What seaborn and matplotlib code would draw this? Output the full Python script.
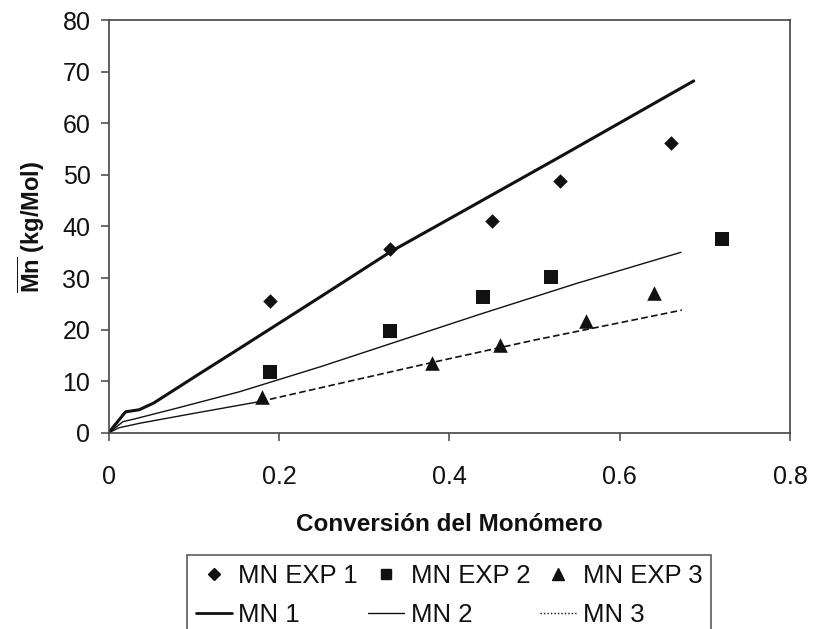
import numpy as np
import pandas as pd
import seaborn as sns
import matplotlib
matplotlib.use("Agg")
import matplotlib.pyplot as plt
from matplotlib.lines import Line2D

# ---- data ----
exp1_x = [0.19, 0.33, 0.45, 0.53, 0.66]
exp1_y = [25.6, 35.6, 41.0, 48.8, 56.1]
exp2_x = [0.19, 0.33, 0.44, 0.52, 0.72]
exp2_y = [11.8, 19.8, 26.4, 30.3, 37.6]
exp3_x = [0.18, 0.38, 0.46, 0.56, 0.64]
exp3_y = [7.0, 13.5, 17.1, 21.7, 27.1]

mn1_x = [0.0, 0.02, 0.036, 0.053, 0.107, 0.154, 0.25, 0.331, 0.436, 0.53, 0.687]
mn1_y = [0.0, 4.1, 4.5, 5.8, 11.5, 16.4, 26.5, 35.1, 44.8, 53.5, 68.2]
mn2_x = [0.0, 0.017, 0.03, 0.08, 0.154, 0.25, 0.331, 0.436, 0.55, 0.672]
mn2_y = [0.0, 2.2, 2.7, 4.8, 8.0, 12.9, 17.3, 23.0, 29.0, 35.0]
mn3_x = [0.0, 0.012, 0.037, 0.1, 0.178, 0.25, 0.381, 0.5, 0.673]
mn3_y = [0.0, 1.0, 1.9, 3.8, 6.1, 8.8, 13.7, 18.0, 23.8]

x_ticks = [0, 0.2, 0.4, 0.6, 0.8]
x_ticklabels = ["0", "0.2", "0.4", "0.6", "0.8"]
y_ticks = [0, 10, 20, 30, 40, 50, 60, 70, 80]

exp_labels = ["MN EXP 1", "MN EXP 2", "MN EXP 3"]
mn_labels = ["MN 1", "MN 2", "MN 3"]

sns.set_theme(style="white")
plt.rcParams["font.family"] = ["Liberation Sans", "DejaVu Sans"]
plt.rcParams["mathtext.fontset"] = "custom"
plt.rcParams["mathtext.rm"] = "Liberation Sans"
plt.rcParams["mathtext.bf"] = "Liberation Sans:bold"

fig = plt.figure(figsize=(8.13, 6.29), dpi=100)
ax = fig.add_axes([108.5 / 813, 1 - 433 / 629, (790 - 108.5) / 813, (433 - 20) / 629])

ink = "#111111"

# model lines
sns.lineplot(x=mn1_x, y=mn1_y, ax=ax, color=ink, lw=2.2, sort=False,
             estimator=None, legend=False)
sns.lineplot(x=mn2_x, y=mn2_y, ax=ax, color=ink, lw=1.0, sort=False,
             estimator=None, legend=False)
# MN3: dense early part looks solid, then dashed
n_solid = 5
sns.lineplot(x=mn3_x[:n_solid], y=mn3_y[:n_solid], ax=ax, color=ink, lw=1.0,
             sort=False, estimator=None, legend=False)
sns.lineplot(x=mn3_x[n_solid - 1:], y=mn3_y[n_solid - 1:], ax=ax, color=ink,
             lw=1.2, sort=False, estimator=None, legend=False,
             dashes=False, linestyle=(0, (4, 2)))

# experimental points
sns.scatterplot(x=exp1_x, y=exp1_y, ax=ax, marker="D", s=55, color=ink,
                edgecolor=ink, linewidth=0, zorder=5)
sns.scatterplot(x=exp2_x, y=exp2_y, ax=ax, marker="s", s=95, color=ink,
                edgecolor=ink, linewidth=0, zorder=5)
sns.scatterplot(x=exp3_x, y=exp3_y, ax=ax, marker="^", s=110, color=ink,
                edgecolor=ink, linewidth=0, zorder=5)

ax.set_xlim(0, 0.8)
ax.set_ylim(0, 80)
ax.set_xticks(x_ticks)
ax.set_xticklabels(x_ticklabels)
ax.set_yticks(y_ticks)

for sp in ax.spines.values():
    sp.set_visible(True)
    sp.set_color("#444444")
    sp.set_linewidth(1.2)

ax.tick_params(axis="both", which="major", direction="out", length=6,
               width=1.1, color="#444444", labelsize=18, labelcolor=ink)
ax.tick_params(axis="x", pad=17, bottom=True)
ax.tick_params(axis="y", pad=7, left=True)

ax.set_xlabel("Conversión del Monómero", fontsize=17.5, fontweight="bold",
              color=ink, labelpad=17)
ax.set_ylabel(r"$\overline{\mathbf{Mn}}$ (kg/Mol)", fontsize=17,
              fontweight="bold", color=ink, labelpad=11)

# legend
h_e1 = Line2D([], [], ls="none", marker="D", ms=6, color=ink)
h_e2 = Line2D([], [], ls="none", marker="s", ms=7, color=ink)
h_e3 = Line2D([], [], ls="none", marker="^", ms=8, color=ink)
h_m1 = Line2D([], [], color=ink, lw=2.0)
h_m2 = Line2D([], [], color=ink, lw=1.0)
h_m3 = Line2D([], [], color=ink, lw=1.0, ls=(0, (1, 1.5)))
handles = [h_e1, h_m1, h_e2, h_m2, h_e3, h_m3]
labels = [exp_labels[0], mn_labels[0], exp_labels[1], mn_labels[1],
          exp_labels[2], mn_labels[2]]
leg = ax.legend(handles, labels, ncol=3, loc="upper left",
                bbox_to_anchor=(187 / 813, 1 - 555 / 629),
                bbox_transform=fig.transFigure, borderaxespad=0,
                fontsize=18.5, frameon=True, fancybox=False,
                handlelength=1.4, handletextpad=0.25, columnspacing=0.4,
                borderpad=0.35, labelspacing=0.6)
leg.get_frame().set_edgecolor("#333333")
leg.get_frame().set_linewidth(1.2)
for t in leg.get_texts():
    t.set_color(ink)

fig.savefig("out.png", dpi=100)
